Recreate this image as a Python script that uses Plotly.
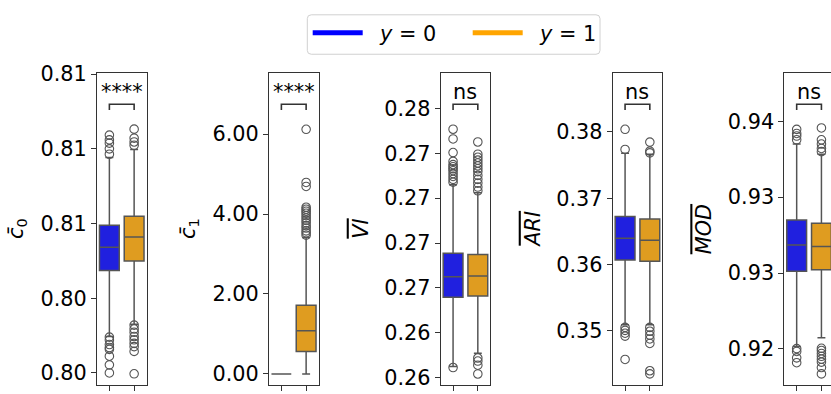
import plotly.graph_objects as go

# ---------------- data ----------------
groups = ["y = 0", "y = 1"]
metrics = ["c0", "c1", "VI", "ARI", "MOD"]
sig_labels = ["****", "****", "ns", "ns", "ns"]

# box statistics per metric: [y=0, y=1]
c0_q1 = [0.80343, 0.80375]
c0_med = [0.80421, 0.80455]
c0_q3 = [0.80494, 0.80524]
c0_lo = [0.80122, 0.80163]
c0_hi = [0.80721, 0.80748]
c0_out0 = [0.80796, 0.80780, 0.80769, 0.80750, 0.80732,
           0.80120, 0.80110, 0.80095, 0.80085, 0.80079, 0.80056, 0.80027, 0.80000]
c0_out1 = [0.80816, 0.80786, 0.80773, 0.80762,
           0.80160, 0.80147, 0.80136, 0.80122, 0.80111, 0.80099, 0.80088, 0.80072, 0.79997]

c1_q1 = [0.0, 0.56]
c1_med = [0.0, 1.08]
c1_q3 = [0.0, 1.72]
c1_lo = [0.0, 0.0]
c1_hi = [0.0, 3.41]
c1_out0 = []
c1_out1 = [6.12, 4.79, 4.69, 4.17, 4.12, 4.07, 4.02, 3.96, 3.90, 3.84, 3.78,
           3.71, 3.65, 3.58, 3.53, 3.47]

vi_q1 = [0.26698, 0.26705]
vi_med = [0.26813, 0.26816]
vi_q3 = [0.26944, 0.26937]
vi_lo = [0.26312, 0.26387]
vi_hi = [0.27325, 0.27280]
vi_out0 = [0.27634, 0.27580, 0.27504, 0.27455, 0.27437, 0.27425, 0.27414, 0.27403,
           0.27387, 0.27371, 0.27355, 0.27339, 0.26307]
vi_out1 = [0.27563, 0.27495, 0.27478, 0.27462, 0.27446, 0.27430, 0.27414, 0.27398,
           0.27377, 0.27355, 0.27334, 0.27312, 0.27291,
           0.26360, 0.26343, 0.26320, 0.26271]

ari_q1 = [0.36068, 0.36049]
ari_med = [0.36397, 0.36368]
ari_q3 = [0.36725, 0.36687]
ari_lo = [0.35093, 0.35093]
ari_hi = [0.37677, 0.37662]
ari_out0 = [0.38039, 0.37735, 0.35054, 0.35010, 0.34967, 0.34923, 0.34571]
ari_out1 = [0.37846, 0.37710, 0.37684, 0.35054, 0.34996, 0.34938, 0.34880, 0.34812,
            0.34401, 0.34354]

mod_q1 = [0.92511, 0.92522]
mod_med = [0.92685, 0.92674]
mod_q3 = [0.92850, 0.92828]
mod_lo = [0.92015, 0.92074]
mod_hi = [0.93350, 0.93283]
mod_out0 = [0.93447, 0.93420, 0.93403, 0.93378, 0.92002, 0.91983, 0.91941, 0.91909]
mod_out1 = [0.93456, 0.93378, 0.93350, 0.93321, 0.93300,
            0.92004, 0.91989, 0.91970, 0.91951, 0.91932, 0.91913, 0.91877, 0.91835]

# tick values / labels
c0_ticks = [0.8000, 0.8025, 0.8050, 0.8075, 0.8100]
c0_ticktext = ["0.80", "0.80", "0.81", "0.81", "0.81"]
c1_ticks = [0, 2, 4, 6]
c1_ticktext = ["0.00", "2.00", "4.00", "6.00"]
vi_ticks = [0.2625, 0.2650, 0.2675, 0.2700, 0.2725, 0.2750, 0.2775]
vi_ticktext = ["0.26", "0.26", "0.27", "0.27", "0.27", "0.27", "0.28"]
ari_ticks = [0.35, 0.36, 0.37, 0.38]
ari_ticktext = ["0.35", "0.36", "0.37", "0.38"]
mod_ticks = [0.920, 0.925, 0.930, 0.935]
mod_ticktext = ["0.92", "0.93", "0.93", "0.94"]

y_ranges = [[0.799591, 0.810045], [-0.2816, 7.534], [0.262088, 0.279482],
            [0.341840, 0.388899], [0.917610, 0.938195]]

ylabels = ["<i>c̄</i><sub>0</sub>", "<i>c̄</i><sub>1</sub>",
           "<span style='text-decoration:overline'><i>VI</i></span>",
           "<span style='text-decoration:overline'><i>ARI</i></span>",
           "<span style='text-decoration:overline'><i>MOD</i></span>"]

stats = [
    (c0_q1, c0_med, c0_q3, c0_lo, c0_hi, c0_out0, c0_out1, c0_ticks, c0_ticktext),
    (c1_q1, c1_med, c1_q3, c1_lo, c1_hi, c1_out0, c1_out1, c1_ticks, c1_ticktext),
    (vi_q1, vi_med, vi_q3, vi_lo, vi_hi, vi_out0, vi_out1, vi_ticks, vi_ticktext),
    (ari_q1, ari_med, ari_q3, ari_lo, ari_hi, ari_out0, ari_out1, ari_ticks, ari_ticktext),
    (mod_q1, mod_med, mod_q3, mod_lo, mod_hi, mod_out0, mod_out1, mod_ticks, mod_ticktext),
]

# ---------------- style / layout ----------------
W, H = 831, 394
FONT = "DejaVu Sans"
FS = 20.8
fill_colors = ["#2020DF", "#DF9C20"]
legend_colors = ["#0000FF", "#FFA500"]
edge = "#555555"
spine = "#333333"

lefts = [97, 269, 440.7, 612.7, 784.3]
pw = 49.5
top_px, bot_px = 65.3, 390.0
cat_px = pw / 2.0


def fx(p):
    return p / W


def fy(p):
    return 1 - p / H


fig = go.Figure()
layout = dict(
    width=W, height=H, margin=dict(l=0, r=0, t=0, b=0),
    paper_bgcolor="white", plot_bgcolor="white", showlegend=False,
    font=dict(family=FONT, size=FS, color="black"),
)
shapes = []
annotations = []

for i, (q1, med, q3, lo, hi, out0, out1, tv, tt) in enumerate(stats):
    n = i + 1
    xa = "x" if n == 1 else f"x{n}"
    ya = "y" if n == 1 else f"y{n}"
    right = min(lefts[i] + pw, W)
    xmax = -0.5 + (right - lefts[i]) / cat_px
    for g in range(2):
        fig.add_trace(go.Box(
            x=[g], q1=[q1[g]], median=[med[g]], q3=[q3[g]],
            lowerfence=[lo[g]], upperfence=[hi[g]],
            width=0.8, whiskerwidth=0.4, boxpoints=False,
            fillcolor=fill_colors[g], line=dict(color=edge, width=1.5),
            name=groups[g], xaxis=xa, yaxis=ya, hoverinfo="skip",
        ))
        outs = out0 if g == 0 else out1
        if outs:
            fig.add_trace(go.Scatter(
                x=[g] * len(outs), y=outs, mode="markers",
                marker=dict(symbol="circle", size=8.5, color="rgba(0,0,0,0)",
                            line=dict(color=edge, width=1.1)),
                xaxis=xa, yaxis=ya, hoverinfo="skip", showlegend=False,
            ))
    last = (i == 4)
    layout["xaxis" if n == 1 else f"xaxis{n}"] = dict(
        domain=[fx(lefts[i]), fx(right)], range=[-0.5, xmax],
        anchor=ya, tickvals=[0, 1], showticklabels=False,
        ticks="outside", ticklen=5, tickwidth=1, tickcolor=spine,
        showline=True, linecolor=spine, linewidth=1, mirror=True,
        showgrid=False, zeroline=False, fixedrange=True,
    )
    layout["yaxis" if n == 1 else f"yaxis{n}"] = dict(
        domain=[fy(bot_px), fy(top_px)], range=y_ranges[i], anchor=xa,
        tickvals=tv, ticktext=tt, ticks="outside", ticklen=5, tickwidth=1,
        tickcolor=spine, tickfont=dict(family=FONT, size=FS, color="black"),
        showline=True, linecolor=spine, linewidth=1, mirror=not last,
        showgrid=False, zeroline=False, fixedrange=True,
    )
    # significance bracket
    yb, yt = (bot_px - 104) / (bot_px - top_px), (bot_px - 98) / (bot_px - top_px)
    shapes.append(dict(
        type="path", xref=xa, yref=f"{ya} domain",
        path=f"M 0,{yb} L 0,{yt} L 1,{yt} L 1,{yb}",
        line=dict(color=spine, width=1.6),
    ))
    annotations.append(dict(
        text=sig_labels[i], xref=xa, yref=f"{ya} domain", x=0.5,
        y=(bot_px - 85) / (bot_px - top_px), xanchor="center", yanchor="middle",
        showarrow=False, font=dict(family=FONT, size=FS, color="black"),
    ))
    # y-axis title
    annotations.append(dict(
        text=ylabels[i], xref=f"{xa} domain", yref=f"{ya} domain", x=0, y=0.5,
        xshift=-80, xanchor="center", yanchor="middle", textangle=-90,
        showarrow=False, font=dict(family=FONT, size=FS, color="black"),
    ))

# ---------------- legend (custom, rounded frame) ----------------
lx0, lx1, ly0, ly1, r = 307.3, 600.0, 5.0, 46.0, 4.0
path = (f"M {fx(lx0 + r)},{fy(ly0)} L {fx(lx1 - r)},{fy(ly0)} "
        f"Q {fx(lx1)},{fy(ly0)} {fx(lx1)},{fy(ly0 + r)} "
        f"L {fx(lx1)},{fy(ly1 - r)} Q {fx(lx1)},{fy(ly1)} {fx(lx1 - r)},{fy(ly1)} "
        f"L {fx(lx0 + r)},{fy(ly1)} Q {fx(lx0)},{fy(ly1)} {fx(lx0)},{fy(ly1 - r)} "
        f"L {fx(lx0)},{fy(ly0 + r)} Q {fx(lx0)},{fy(ly0)} {fx(lx0 + r)},{fy(ly0)} Z")
shapes.insert(0, dict(type="path", xref="paper", yref="paper", path=path,
                      line=dict(color="#D0D0D0", width=1), fillcolor="rgba(255,255,255,0.8)"))
handle_x = [(312.7, 362.7), (472.7, 522.7)]
text_x = [377.0, 536.7]
legend_texts = ["<i>y</i> = 0", "<i>y</i> = 1"]
for g in range(2):
    shapes.append(dict(type="line", xref="paper", yref="paper",
                       x0=fx(handle_x[g][0]), x1=fx(handle_x[g][1]),
                       y0=fy(23.7), y1=fy(23.7),
                       line=dict(color=legend_colors[g], width=5)))
    annotations.append(dict(text=legend_texts[g], xref="paper", yref="paper",
                            x=fx(text_x[g]), y=fy(24.5), xanchor="left", yanchor="middle",
                            showarrow=False, font=dict(family=FONT, size=FS, color="black")))

layout["shapes"] = shapes
layout["annotations"] = annotations
fig.update_layout(**layout)
fig.write_html("out.html")
